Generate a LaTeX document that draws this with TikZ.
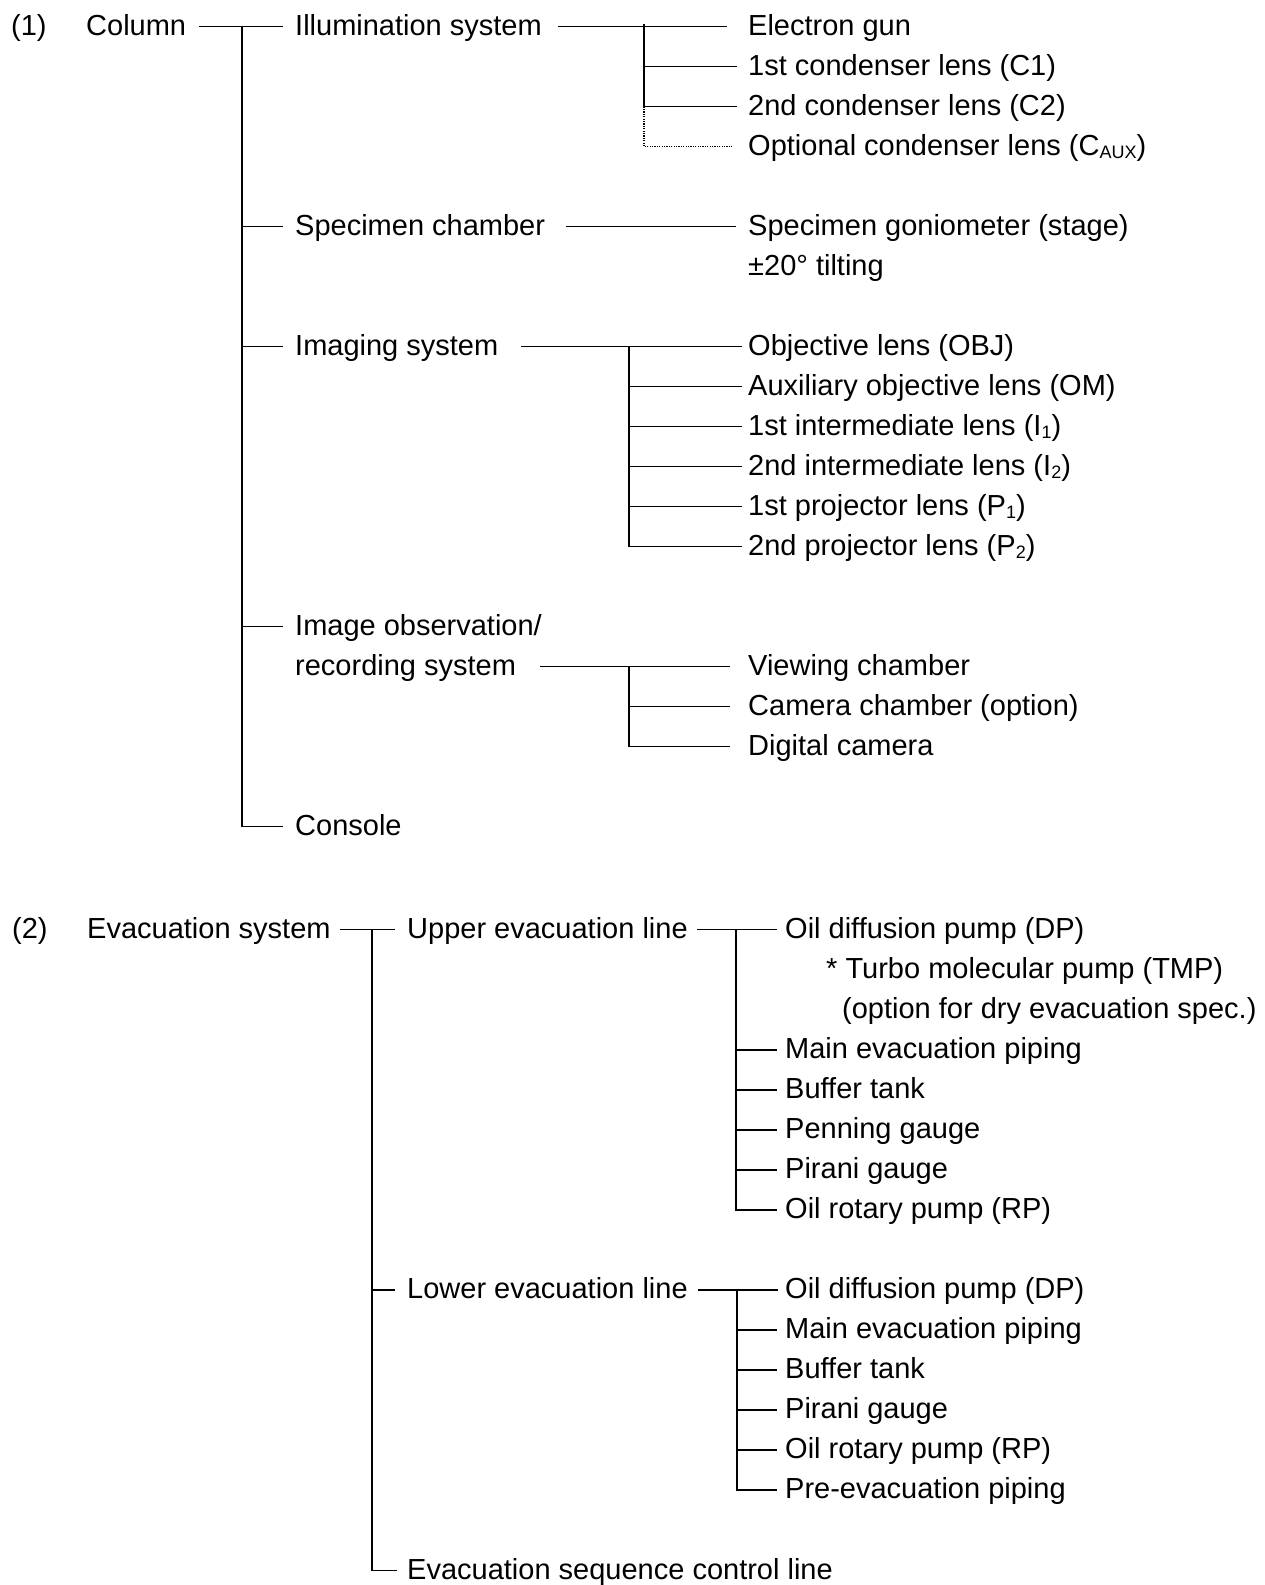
\documentclass[tikz,border=0pt]{standalone}
\usepackage{fontspec}
\setmainfont{Liberation Sans}
\begin{document}
\begin{tikzpicture}[x=1pt,y=-1pt,
  lbl/.style={inner sep=0pt,anchor=west,text height=22pt,text depth=5pt,font=\fontsize{29}{34}\selectfont},
  conn/.style={line width=1.9pt},
  optconn/.style={line width=1.2pt,dash pattern=on 1.2pt off 1.2pt}]
\useasboundingbox (0,0) rectangle (1264,1585);

% ---------- Section 1 ----------
\node[lbl] (n1) at (11,26.5) {(1)};
\node[lbl] (col) at (86,26.5) {Column};
\node[lbl] (ill) at (295,26.5) {Illumination system};
\node[lbl] (eg) at (748,26.5) {Electron gun};
\node[lbl] (c1) at (748,66.5) {1st condenser lens (C1)};
\node[lbl] (c2) at (748,106.5) {2nd condenser lens (C2)};
\node[lbl] (caux) at (748,146.5) {Optional condenser lens (C{\fontsize{18}{20}\selectfont\raisebox{-3pt}{AUX}})};
\node[lbl] (spec) at (295,226.5) {Specimen chamber};
\node[lbl] (gon) at (748,226.5) {Specimen goniometer (stage)};
\node[lbl] (tilt) at (748,266.5) {±20° tilting};
\node[lbl] (img) at (295,346.5) {Imaging system};
\node[lbl] (obj) at (748,346.5) {Objective lens (OBJ)};
\node[lbl] (om) at (748,386.5) {Auxiliary objective lens (OM)};
\node[lbl] (i1) at (748,426.5) {1st intermediate lens (I{\fontsize{18}{20}\selectfont\raisebox{-3pt}{1}})};
\node[lbl] (i2) at (748,466.5) {2nd intermediate lens (I{\fontsize{18}{20}\selectfont\raisebox{-3pt}{2}})};
\node[lbl] (p1) at (748,506.5) {1st projector lens (P{\fontsize{18}{20}\selectfont\raisebox{-3pt}{1}})};
\node[lbl] (p2) at (748,546.5) {2nd projector lens (P{\fontsize{18}{20}\selectfont\raisebox{-3pt}{2}})};
\node[lbl] (obs) at (295,626.5) {Image observation/};
\node[lbl] (rec) at (295,666.5) {recording system};
\node[lbl] (view) at (748,666.5) {Viewing chamber};
\node[lbl] (cam) at (748,706.5) {Camera chamber (option)};
\node[lbl] (dig) at (748,746.5) {Digital camera};
\node[lbl] (cons) at (295,826.5) {Console};

\coordinate (t1) at (242,26.5);
\coordinate (j1) at (644,26.5);
\coordinate (j2) at (629,346.5);
\coordinate (j3) at (629,666.5);

\draw[conn] ([xshift=13pt]col.east) -- ([xshift=-12pt]ill.west);
\draw[conn] (t1) |- ([xshift=-12pt]cons.west);
\foreach \n in {spec,img,obs} \draw[conn] (t1 |- \n.west) -- ([xshift=-12pt]\n.west);

\draw[conn] ([xshift=16pt]ill.east) -- ([xshift=-21pt]eg.west);
\draw[conn] ([yshift=3pt]j1) -- (j1 |- c2.west);
\draw[optconn] (j1 |- c2.west) |- ([xshift=-15pt]caux.west);
\foreach \n in {c1,c2} \draw[conn] (j1 |- \n.west) -- ([xshift=-11pt]\n.west);

\draw[conn] ([xshift=21pt]spec.east) -- ([xshift=-12pt]gon.west);

\draw[conn] ([xshift=23pt]img.east) -- ([xshift=-6pt]obj.west);
\draw[conn] (j2) |- ([xshift=-6pt]p2.west);
\foreach \n in {om,i1,i2,p1} \draw[conn] (j2 |- \n.west) -- ([xshift=-6pt]\n.west);

\draw[conn] ([xshift=24pt]rec.east) -- ([xshift=-18pt]view.west);
\draw[conn] (j3) |- ([xshift=-18pt]dig.west);
\draw[conn] (j3 |- cam.west) -- ([xshift=-18pt]cam.west);

% ---------- Section 2 ----------
\node[lbl] (n2) at (12,929.5) {(2)};
\node[lbl] (evs) at (87,929.5) {Evacuation system};
\node[lbl] (up) at (407,929.5) {Upper evacuation line};
\node[lbl] (udp) at (785,929.5) {Oil diffusion pump (DP)};
\node[lbl] (tmp) at (826,969.6) {* Turbo molecular pump (TMP)};
\node[lbl] (dry) at (842,1009.6) {(option for dry evacuation spec.)};
\node[lbl] (umain) at (785,1049.7) {Main evacuation piping};
\node[lbl] (ubuf) at (785,1089.7) {Buffer tank};
\node[lbl] (upen) at (785,1129.8) {Penning gauge};
\node[lbl] (upir) at (785,1169.9) {Pirani gauge};
\node[lbl] (urp) at (785,1209.9) {Oil rotary pump (RP)};
\node[lbl] (low) at (407,1290.0) {Lower evacuation line};
\node[lbl] (ldp) at (785,1290.0) {Oil diffusion pump (DP)};
\node[lbl] (lmain) at (785,1330.1) {Main evacuation piping};
\node[lbl] (lbuf) at (785,1370.1) {Buffer tank};
\node[lbl] (lpir) at (785,1410.2) {Pirani gauge};
\node[lbl] (lrp) at (785,1450.3) {Oil rotary pump (RP)};
\node[lbl] (lpre) at (785,1490.3) {Pre-evacuation piping};
\node[lbl] (seq) at (407,1570.5) {Evacuation sequence control line};

\coordinate (t2) at (372,929.5);
\coordinate (j4) at (736,929.5);
\coordinate (j5) at (737,1290.0);

\draw[conn] ([xshift=9pt]evs.east) -- ([xshift=-12pt]up.west);
\draw[conn] (t2) |- ([xshift=-10pt]seq.west);
\draw[conn] (t2 |- low.west) -- ([xshift=-12pt]low.west);

\draw[conn] ([xshift=9pt]up.east) -- ([xshift=-8pt]udp.west);
\draw[conn] (j4) |- ([xshift=-8pt]urp.west);
\foreach \n in {umain,ubuf,upen,upir} \draw[conn] (j4 |- \n.west) -- ([xshift=-8pt]\n.west);

\draw[conn] ([xshift=10pt]low.east) -- ([xshift=-7pt]ldp.west);
\draw[conn] (j5) |- ([xshift=-8pt]lpre.west);
\foreach \n in {lmain,lbuf,lpir,lrp} \draw[conn] (j5 |- \n.west) -- ([xshift=-8pt]\n.west);
\end{tikzpicture}
\end{document}
